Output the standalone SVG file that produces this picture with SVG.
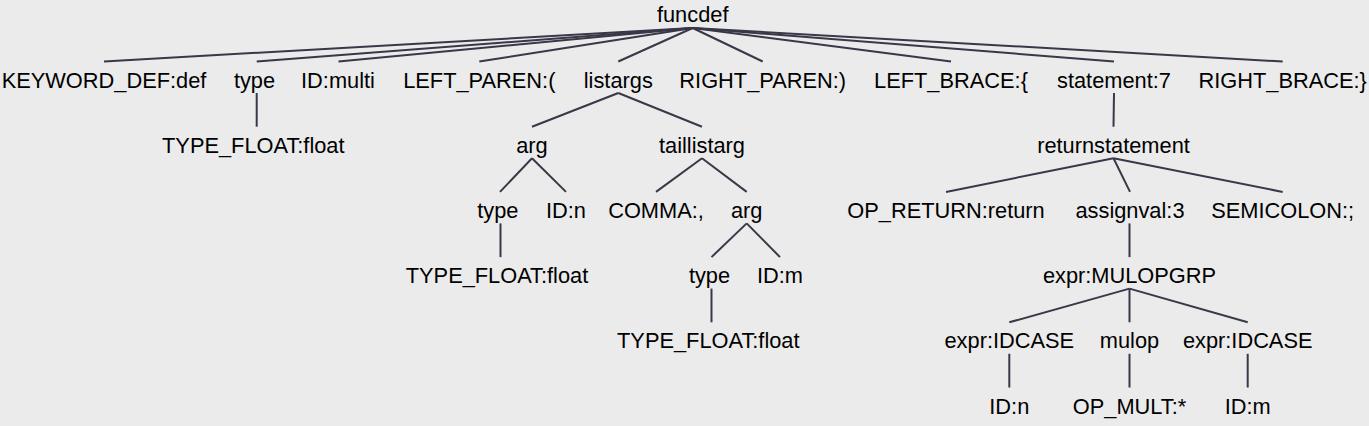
<svg xmlns="http://www.w3.org/2000/svg" width="1369" height="426" viewBox="0 0 1369 426">
<style>
text{font-family:"Liberation Sans",Arial,sans-serif;font-size:21.8px;fill:#000;text-anchor:middle}
.c line{stroke:#383848;stroke-width:2;stroke-linecap:butt}
</style>
<rect x="0" y="0" width="1369" height="426" fill="#ebebeb"/>
<g id="connectors" class="c">
<line x1="692.7" y1="28" x2="104" y2="61.5"/>
<line x1="692.7" y1="28" x2="256.7" y2="61.5"/>
<line x1="692.7" y1="28" x2="338.5" y2="61.5"/>
<line x1="692.7" y1="28" x2="479.3" y2="61.5"/>
<line x1="692.7" y1="28" x2="618.3" y2="61.5"/>
<line x1="692.7" y1="28" x2="762.7" y2="61.5"/>
<line x1="692.7" y1="28" x2="951" y2="61.5"/>
<line x1="692.7" y1="28" x2="1114" y2="61.5"/>
<line x1="692.7" y1="28" x2="1282.7" y2="61.5"/>
<line x1="256.7" y1="93" x2="256.7" y2="126.7"/>
<line x1="618.3" y1="93" x2="532" y2="126.7"/>
<line x1="618.3" y1="93" x2="702" y2="126.7"/>
<line x1="1114" y1="93" x2="1113.5" y2="126.7"/>
<line x1="532" y1="158.2" x2="500" y2="191.9"/>
<line x1="532" y1="158.2" x2="566" y2="191.9"/>
<line x1="702" y1="158.2" x2="656" y2="191.9"/>
<line x1="702" y1="158.2" x2="746.7" y2="191.9"/>
<line x1="1113.5" y1="158.2" x2="946" y2="191.9"/>
<line x1="1113.5" y1="158.2" x2="1130" y2="191.9"/>
<line x1="1113.5" y1="158.2" x2="1282.7" y2="191.9"/>
<line x1="500.5" y1="223.4" x2="500.5" y2="257.1"/>
<line x1="746.7" y1="223.4" x2="711.5" y2="257.1"/>
<line x1="746.7" y1="223.4" x2="780" y2="257.1"/>
<line x1="1129.5" y1="223.4" x2="1129.5" y2="257.1"/>
<line x1="711.5" y1="288.6" x2="711.5" y2="322.3"/>
<line x1="1129.5" y1="288.6" x2="1009.3" y2="322.3"/>
<line x1="1129.5" y1="288.6" x2="1129.5" y2="322.3"/>
<line x1="1129.5" y1="288.6" x2="1247.7" y2="322.3"/>
<line x1="1009.3" y1="353.8" x2="1009.3" y2="387.5"/>
<line x1="1129.5" y1="353.8" x2="1129.5" y2="387.5"/>
<line x1="1247.7" y1="353.8" x2="1247.7" y2="387.5"/>
</g>
<g id="n_funcdef"><text x="692.7" y="22.3">funcdef</text></g>
<g id="n_keyword_def"><text x="104" y="87.5">KEYWORD_DEF:def</text></g>
<g id="n_type1"><text x="254.5" y="87.5">type</text></g>
<g id="n_id_multi"><text x="338" y="87.5">ID:multi</text></g>
<g id="n_left_paren"><text x="479.3" y="87.5">LEFT_PAREN:(</text></g>
<g id="n_listargs"><text x="618.3" y="87.5">listargs</text></g>
<g id="n_right_paren"><text x="762.7" y="87.5">RIGHT_PAREN:)</text></g>
<g id="n_left_brace"><text x="951" y="87.5">LEFT_BRACE:{</text></g>
<g id="n_statement"><text x="1114" y="87.5">statement:7</text></g>
<g id="n_right_brace"><text x="1282.7" y="87.5">RIGHT_BRACE:}</text></g>
<g id="n_type_float1"><text x="253.3" y="152.7">TYPE_FLOAT:float</text></g>
<g id="n_arg1"><text x="532" y="152.7">arg</text></g>
<g id="n_taillistarg"><text x="702" y="152.7">taillistarg</text></g>
<g id="n_returnstatement"><text x="1113.5" y="152.7">returnstatement</text></g>
<g id="n_type2"><text x="497.8" y="217.9">type</text></g>
<g id="n_id_n1"><text x="566" y="217.9">ID:n</text></g>
<g id="n_comma"><text x="656" y="217.9">COMMA:,</text></g>
<g id="n_arg2"><text x="746.7" y="217.9">arg</text></g>
<g id="n_op_return"><text x="946" y="217.9">OP_RETURN:return</text></g>
<g id="n_assignval"><text x="1130" y="217.9">assignval:3</text></g>
<g id="n_semicolon"><text x="1282.7" y="217.9">SEMICOLON:;</text></g>
<g id="n_type_float2"><text x="497" y="283.1">TYPE_FLOAT:float</text></g>
<g id="n_type3"><text x="709.5" y="283.1">type</text></g>
<g id="n_id_m1"><text x="780" y="283.1">ID:m</text></g>
<g id="n_expr_mulopgrp"><text x="1129.5" y="283.1">expr:MULOPGRP</text></g>
<g id="n_type_float3"><text x="708.3" y="348.3">TYPE_FLOAT:float</text></g>
<g id="n_expr_idcase1"><text x="1009.3" y="348.3">expr:IDCASE</text></g>
<g id="n_mulop"><text x="1129.5" y="348.3">mulop</text></g>
<g id="n_expr_idcase2"><text x="1247.7" y="348.3">expr:IDCASE</text></g>
<g id="n_id_n2"><text x="1009.3" y="413.5">ID:n</text></g>
<g id="n_op_mult"><text x="1129.5" y="413.5">OP_MULT:*</text></g>
<g id="n_id_m2"><text x="1247.7" y="413.5">ID:m</text></g>
</svg>
